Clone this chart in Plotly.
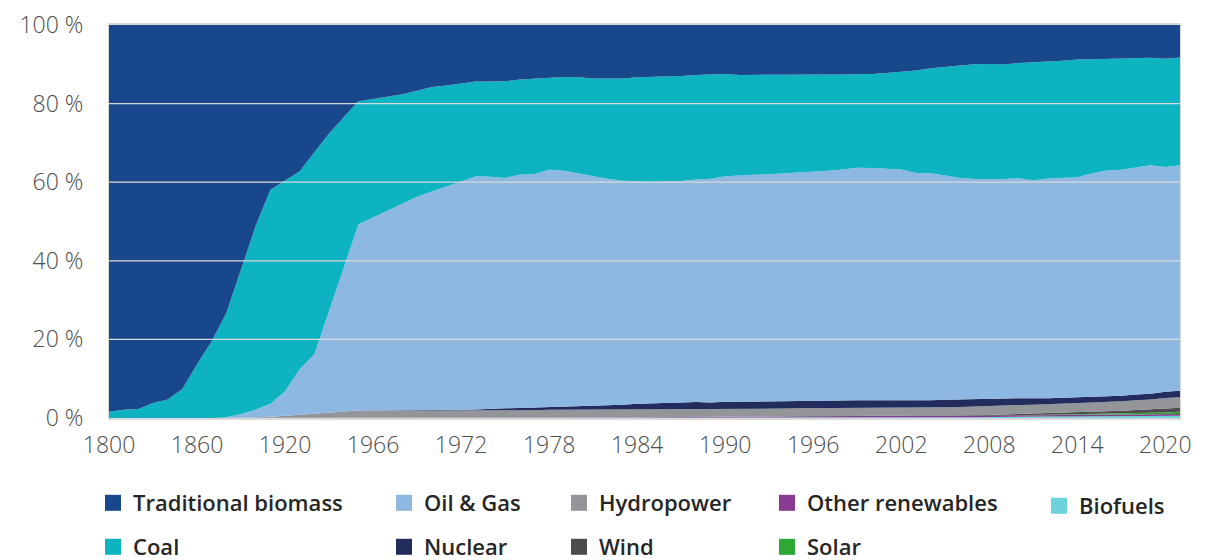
import plotly.graph_objects as go

FONT = "Open Sans, sans-serif"
TICK_COLOR = "#4D4D4D"
LEGEND_COLOR = "#262626"
GRID_COLOR = "#D9D9D9"

# Smil decadal series to 1960, then annual from 1965
years = list(range(1800, 1961, 10)) + list(range(1965, 2022))
x = [str(y) for y in years]

# ─── Shares of primary energy (%) ─────────────────────────────────────────────

biofuels = [0, 0, 0, 0, 0, 0, 0, 0, 0, 0, 0, 0, 0, 0, 0, 0, 0,
            0, 0, 0, 0, 0, 0, 0, 0, 0, 0,
            0.01, 0.01, 0.01, 0.02, 0.03, 0.04, 0.05, 0.06, 0.07, 0.08, 0.09, 0.09, 0.09,
            0.08, 0.08, 0.08, 0.08, 0.08, 0.08, 0.08, 0.08, 0.08, 0.08, 0.08, 0.08, 0.08,
            0.09, 0.1, 0.12, 0.13, 0.15, 0.18, 0.22, 0.28, 0.32, 0.36, 0.36, 0.37, 0.39,
            0.41, 0.44, 0.44, 0.46, 0.5, 0.53, 0.5, 0.55]

other_renewables = [0, 0, 0, 0, 0, 0, 0, 0, 0, 0, 0, 0, 0, 0, 0, 0, 0,
                    0.05, 0.05, 0.05, 0.05, 0.05, 0.06, 0.06, 0.06, 0.07, 0.07, 0.07,
                    0.08, 0.08, 0.09, 0.09, 0.1, 0.1, 0.11, 0.12, 0.13, 0.14, 0.15, 0.16,
                    0.17, 0.18, 0.19, 0.2, 0.2, 0.21, 0.22, 0.22, 0.23, 0.23, 0.24, 0.24,
                    0.25, 0.25, 0.26, 0.26, 0.27, 0.28, 0.29, 0.3, 0.31, 0.32, 0.33,
                    0.35, 0.36, 0.37, 0.38, 0.39, 0.4, 0.41, 0.42, 0.43, 0.45, 0.46]

solar = [0, 0, 0, 0, 0, 0, 0, 0, 0, 0, 0, 0, 0, 0, 0, 0, 0,
         0, 0, 0, 0, 0, 0, 0, 0, 0, 0, 0, 0, 0, 0, 0, 0, 0, 0, 0, 0,
         0, 0, 0, 0, 0, 0, 0, 0, 0, 0, 0, 0, 0, 0, 0, 0, 0, 0, 0, 0,
         0.01, 0.01, 0.01, 0.02, 0.02, 0.03, 0.06, 0.08, 0.1, 0.13, 0.16, 0.2,
         0.26, 0.32, 0.38, 0.47, 0.55]

wind = [0, 0, 0, 0, 0, 0, 0, 0, 0, 0, 0, 0, 0, 0, 0, 0, 0,
        0, 0, 0, 0, 0, 0, 0, 0, 0, 0, 0, 0, 0, 0, 0, 0,
        0, 0, 0, 0, 0, 0, 0, 0, 0, 0, 0, 0, 0, 0, 0,
        0.01, 0.01, 0.02, 0.02, 0.03, 0.04, 0.05, 0.06, 0.07, 0.09, 0.11, 0.14, 0.18,
        0.23, 0.28, 0.33, 0.39, 0.45, 0.5, 0.55, 0.62, 0.7, 0.77, 0.84, 0.97, 1.05]

hydropower = [0, 0, 0, 0, 0, 0, 0, 0, 0, 0, 0.1, 0.3, 0.5, 0.8, 1.1, 1.4, 1.6,
              1.8, 1.8, 1.8, 1.8, 1.8, 1.8, 1.8, 1.8, 1.8, 1.9, 1.9, 1.9, 1.9,
              2.0, 2.0, 2.0, 2.0, 2.1, 2.1, 2.1, 2.1, 2.1, 2.1, 2.1, 2.0,
              2.1, 2.1, 2.1, 2.1, 2.1, 2.2, 2.2, 2.2, 2.2, 2.2, 2.2,
              2.1, 2.1, 2.1, 2.1, 2.2, 2.2, 2.2, 2.2, 2.3, 2.3, 2.3,
              2.4, 2.4, 2.4, 2.4, 2.4, 2.4, 2.5, 2.5, 2.7, 2.7]

nuclear = [0, 0, 0, 0, 0, 0, 0, 0, 0, 0, 0, 0, 0, 0, 0, 0, 0,
           0.05, 0.06, 0.07, 0.08, 0.1, 0.15, 0.2, 0.25, 0.3, 0.4,
           0.5, 0.55, 0.65, 0.75, 0.75, 0.8, 0.95, 1.0, 1.1, 1.3,
           1.45, 1.5, 1.6, 1.7, 1.7, 1.75, 1.8, 1.8, 1.85, 1.85,
           1.9, 1.95, 1.9, 1.9, 1.95, 1.95, 2.0, 2.0, 1.9, 1.95,
           1.9, 1.9, 1.8, 1.75, 1.75, 1.75, 1.6, 1.45, 1.45, 1.45,
           1.45, 1.45, 1.45, 1.45, 1.5, 1.6, 1.6]

oil_gas = [0, 0, 0, 0, 0, 0, 0, 0, 0.2, 1.0, 2.0, 3.3, 6.3, 11.6, 15.1, 25.8, 36.6,
           47.4, 49.1, 50.8, 52.5, 54.3, 55.6, 56.9, 58.1, 59.3, 59.0,
           58.6, 59.4, 59.5, 60.3, 60.0, 59.3, 58.4, 57.6, 57.0, 56.7,
           56.3, 56.4, 56.4, 56.6, 56.9, 57.4, 57.6, 57.7, 57.8, 58.0,
           58.0, 58.2, 58.5, 58.8, 59.2, 59.1, 58.9, 58.7, 57.9, 57.8,
           57.1, 56.4, 56.1, 56.0, 55.9, 56.0, 55.5, 55.9, 55.9, 56.0,
           56.8, 57.5, 57.5, 57.8, 58.1, 57.2, 57.4]

coal = [1.6, 2.1, 2.3, 3.8, 4.7, 7.4, 13.7, 19.5, 26.5, 36.8, 46.8, 54.5, 53.7, 50.4, 51.4, 45.2, 38.3,
        31.3, 30.2, 29.1, 28.0, 27.0, 26.6, 25.6, 24.8, 24.1, 24.2,
        24.6, 24.2, 24.2, 23.5, 23.9, 24.5, 24.9, 25.5, 26.0, 26.4,
        26.7, 26.7, 26.7, 26.6, 26.5, 26.0, 25.5, 25.4, 25.3, 25.1,
        25.0, 24.7, 24.5, 24.2, 23.8, 23.9, 24.4, 24.9, 26.1, 26.7,
        27.6, 28.6, 29.2, 29.4, 29.2, 29.3, 30.1, 29.8, 29.8, 29.9,
        29.1, 28.4, 28.3, 27.8, 27.4, 27.5, 27.4]

traditional_biomass = [98.4, 97.9, 97.7, 96.2, 95.3, 92.6, 86.3, 80.5, 73.3, 62.2, 51.1, 41.9, 39.5,
                       37.2, 32.4, 27.6, 23.5,
                       19.4, 18.8, 18.2, 17.6, 16.7, 15.8, 15.4, 15.0, 14.4, 14.4,
                       14.3, 13.9, 13.7, 13.3, 13.2, 13.3, 13.6, 13.6, 13.6, 13.3,
                       13.2, 13.1, 13.0, 12.7, 12.6, 12.5, 12.7, 12.7, 12.7, 12.7,
                       12.6, 12.6, 12.6, 12.6, 12.5, 12.5, 12.2, 11.9, 11.6, 11.0,
                       10.7, 10.3, 10.0, 9.9, 10.0, 9.7, 9.4, 9.3, 9.1, 8.8,
                       8.7, 8.6, 8.5, 8.4, 8.3, 8.6, 8.3]

y_ticks = [0, 20, 40, 60, 80, 100]
y_labels = [f"{v} %" for v in y_ticks]

# bottom of the stack first
SERIES = [
    ("Biofuels", biofuels, "#6CD3DB"),
    ("Other renewables", other_renewables, "#8A3B91"),
    ("Solar", solar, "#2DA836"),
    ("Wind", wind, "#4D4D4F"),
    ("Hydropower", hydropower, "#939598"),
    ("Nuclear", nuclear, "#222D5E"),
    ("Oil & Gas", oil_gas, "#8DB8E2"),
    ("Coal", coal, "#0DB3C0"),
    ("Traditional biomass", traditional_biomass, "#18478B"),
]

# legend slots in figure px: (legend id, left, centre) -- 5 columns x 2 rows
LEGEND_SLOTS = {
    "Traditional biomass": ("legend", 85, 495),
    "Oil & Gas": ("legend2", 376, 495),
    "Hydropower": ("legend3", 551, 495),
    "Other renewables": ("legend4", 759, 495),
    "Biofuels": ("legend5", 1031, 498),
    "Coal": ("legend6", 85, 539),
    "Nuclear": ("legend7", 376, 539),
    "Wind": ("legend8", 551, 539),
    "Solar": ("legend9", 759, 539),
}

# page body keeps its default 8px margin, so the figure is sized to fit the window
W, H = 1197, 552
M_L, M_R, M_T, M_B = 101, 25, 17, 142
PLOT_W = W - M_L - M_R
PLOT_H = H - M_T - M_B

fig = go.Figure()

for name, vals, color in SERIES:
    fig.add_trace(go.Scatter(
        x=x, y=vals, name=name,
        mode="lines",
        stackgroup="energy",
        groupnorm="percent",
        line=dict(width=0, color=color),
        fillcolor=color,
        showlegend=False,
        hovertemplate=name + " %{x}: %{y:.1f} %<extra></extra>",
    ))

# legend-only entries (square swatches)
legend_layout = {}
for name, vals, color in SERIES:
    lid, px, py = LEGEND_SLOTS[name]
    fig.add_trace(go.Scatter(
        x=[None], y=[None], name=name,
        mode="markers",
        marker=dict(symbol="square", size=16, color=color),
        legend=lid,
        showlegend=True,
    ))
    legend_layout[lid] = dict(
        x=(px - M_L) / PLOT_W, xanchor="left",
        y=(H - M_B - py) / PLOT_H, yanchor="middle",
        bgcolor="rgba(0,0,0,0)",
        borderwidth=0,
        font=dict(family=FONT, size=22, color=LEGEND_COLOR, weight=600),
    )

for v in y_ticks[1:-1]:
    fig.add_hline(y=v, line=dict(color=GRID_COLOR, width=1.2), layer="above")

fig.update_layout(
    width=W, height=H,
    paper_bgcolor="white",
    plot_bgcolor="white",
    font=dict(family=FONT, color=TICK_COLOR, size=23),
    margin=dict(l=M_L, r=M_R, t=M_T, b=M_B, autoexpand=False),
    xaxis=dict(
        type="category",
        range=[0, len(x) - 1],
        tickmode="array",
        tickvals=x[::6],
        showgrid=False,
        ticks="",
        showline=True, linecolor=GRID_COLOR, linewidth=2, mirror=True,
        tickfont=dict(family=FONT, size=23, color=TICK_COLOR, weight=300),
        ticklabelstandoff=5,
        ticklabeloverflow="allow",
    ),
    yaxis=dict(
        range=[0, 100],
        tickmode="array",
        tickvals=y_ticks,
        ticktext=y_labels,
        showgrid=False,
        zeroline=False,
        ticks="",
        showline=True, linecolor=GRID_COLOR, linewidth=1, mirror=True,
        tickfont=dict(family=FONT, size=23, color=TICK_COLOR, weight=300),
        ticklabelstandoff=20,
        ticklabeloverflow="allow",
    ),
    **legend_layout,
)

fig.write_html("out.html")
